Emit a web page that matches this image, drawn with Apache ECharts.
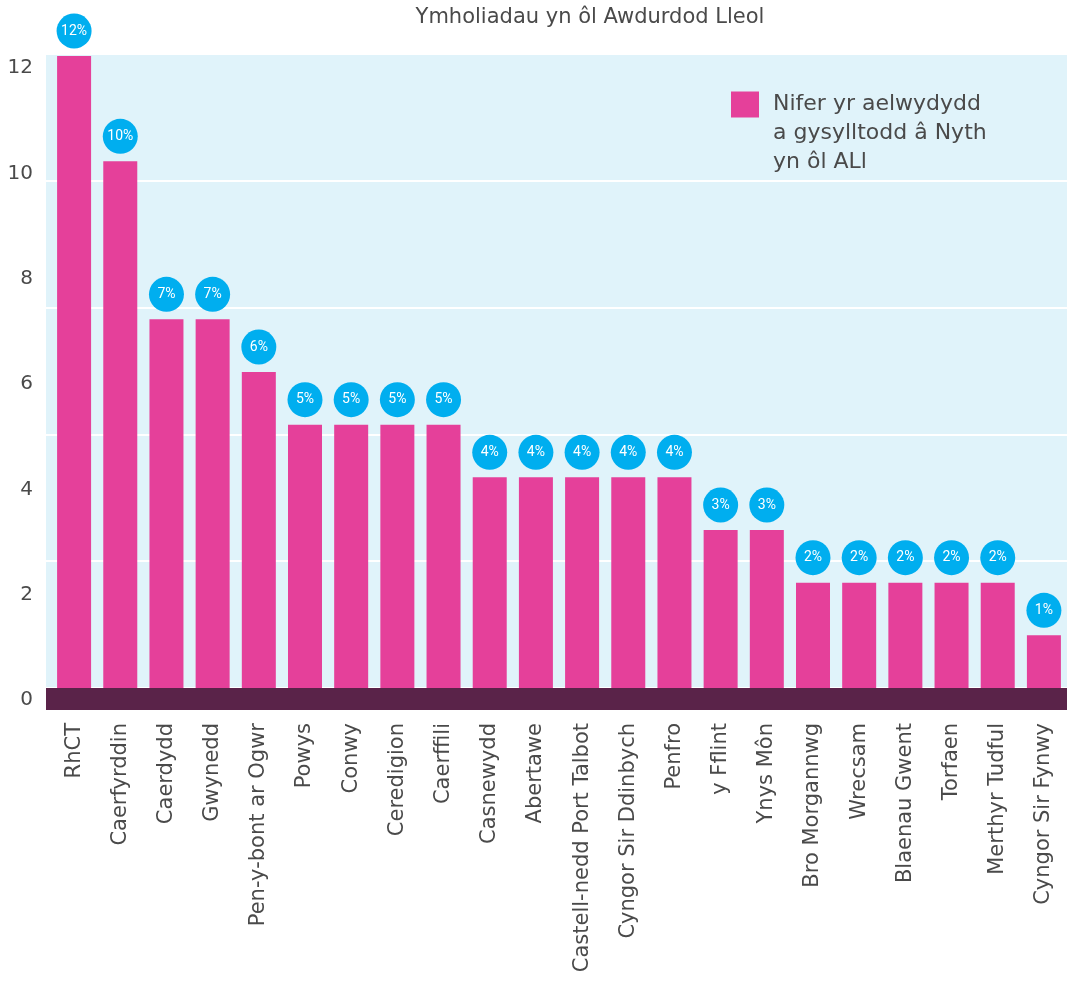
<!DOCTYPE html>
<html>
<head>
<meta charset="utf-8">
<script src="https://cdn.jsdelivr.net/npm/echarts@6/dist/echarts.min.js"></script>
<style>
  html, body { margin: 0; padding: 0; background: #fff; }
  #chart { width: 1067px; height: 988px; }
</style>
</head>
<body>
<div id="chart"></div>
<script>
// Ymholiadau yn ôl Awdurdod Lleol
const categories = ['RhCT', 'Caerfyrddin', 'Caerdydd', 'Gwynedd', 'Pen-y-bont ar Ogwr', 'Powys', 'Conwy', 'Ceredigion', 'Caerffili', 'Casnewydd', 'Abertawe', 'Castell-nedd Port Talbot', 'Cyngor Sir Ddinbych', 'Penfro', 'y Fflint', 'Ynys Môn', 'Bro Morgannwg', 'Wrecsam', 'Blaenau Gwent', 'Torfaen', 'Merthyr Tudful', 'Cyngor Sir Fynwy']
const households = [12, 10, 7, 7, 6, 5, 5, 5, 5, 4, 4, 4, 4, 4, 3, 3, 2, 2, 2, 2, 2, 1]
const percentLabels = ['12%', '10%', '7%', '7%', '6%', '5%', '5%', '5%', '5%', '4%', '4%', '4%', '4%', '4%', '3%', '3%', '2%', '2%', '2%', '2%', '2%', '1%']
const yTicks = [0, 2, 4, 6, 8, 10, 12]
const seriesName = 'Nifer yr aelwydydd\na gysylltodd â Nyth\nyn ôl ALl'

const FONT = 'DejaVu Sans'
const TEXT = '#4a4a4a'

const chart = echarts.init(document.getElementById('chart'))

chart.setOption({
  textStyle: { fontFamily: FONT },
  title: {
    text: 'Ymholiadau yn ôl Awdurdod Lleol',
    left: 585,
    textAlign: 'center',
    top: 2,
    textStyle: { fontFamily: FONT, fontSize: 21, fontWeight: 'normal', color: TEXT }
  },
  legend: {
    data: [seriesName],
    // two empty lines on top so the square sits beside the first line
    formatter: name => '\n\n' + name,
    left: 731,
    top: 32,
    padding: 0,
    itemWidth: 28,
    itemHeight: 26,
    icon: 'rect',
    selectedMode: false,
    textStyle: {
      fontFamily: FONT,
      fontSize: 22,
      color: TEXT,
      lineHeight: 29,
      padding: [0, 0, 0, 9]
    }
  },
  grid: [
    // light blue panel, its white lines and the dark base band
    { left: 46, right: 0, top: 54, bottom: 300, show: true, backgroundColor: '#e0f3fa', borderWidth: 0 },
    // bars
    { left: 51, width: 1020, top: 56, bottom: 300 },
    // y labels
    { left: 46, right: 0, top: 68, bottom: 288 }
  ],
  xAxis: [
    {
      gridIndex: 0,
      type: 'value',
      min: 0,
      max: 1,
      offset: 11,
      axisLine: { show: true, onZero: false, lineStyle: { color: '#5a2349', width: 22, cap: 'butt' } },
      axisTick: { show: false },
      axisLabel: { show: false },
      splitLine: { show: false }
    },
    {
      gridIndex: 1,
      type: 'category',
      data: categories,
      axisLine: { show: false },
      axisTick: { show: false },
      axisLabel: {
        interval: 0,
        rotate: 90,
        margin: 35,
        fontFamily: FONT,
        fontSize: 21,
        color: TEXT
      }
    },
    {
      gridIndex: 2,
      type: 'value',
      show: false
    }
  ],
  yAxis: [
    {
      gridIndex: 0,
      type: 'value',
      min: 0,
      max: 5,
      interval: 1,
      axisLine: { show: false },
      axisTick: { show: false },
      axisLabel: { show: false },
      splitLine: { show: true, lineStyle: { color: '#ffffff', width: 2 } }
    },
    {
      gridIndex: 1,
      type: 'value',
      min: 0,
      max: 12,
      show: false
    },
    {
      gridIndex: 2,
      type: 'value',
      min: 0,
      max: 12,
      interval: 2,
      axisLine: { show: false },
      axisTick: { show: false },
      splitLine: { show: false },
      axisLabel: {
        margin: 13,
        fontFamily: FONT,
        fontSize: 20,
        color: TEXT,
        formatter: v => (yTicks.indexOf(v) >= 0 ? String(v) : '')
      }
    }
  ],
  series: [
    {
      name: seriesName,
      type: 'bar',
      xAxisIndex: 1,
      yAxisIndex: 1,
      barWidth: 34,
      itemStyle: { color: '#e5409a' },
      data: households,
      label: {
        show: true,
        position: 'top',
        distance: 25,
        formatter: p => percentLabels[p.dataIndex],
        backgroundColor: '#00aeef',
        borderRadius: 17.5,
        width: 35,
        height: 35,
        lineHeight: 35,
        padding: 0,
        align: 'center',
        verticalAlign: 'middle',
        color: '#ffffff',
        fontFamily: 'Roboto',
        fontSize: 14
      }
    }
  ]
})
</script>
</body>
</html>
